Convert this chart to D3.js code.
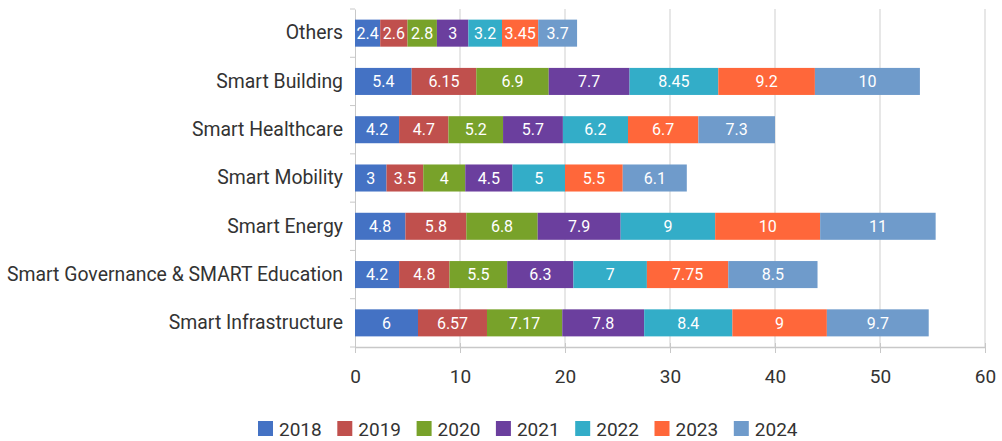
<!DOCTYPE html>
<html>
<head>
<meta charset="utf-8">
<script src="https://cdn.jsdelivr.net/npm/d3@7"></script>
<style>
  body { margin: 0; background: #fff; }
  text { font-family: Roboto, "Noto Sans", sans-serif; }
</style>
</head>
<body>
<div id="chart"></div>
<script>
// categories top to bottom
var categories = ["Others", "Smart Building", "Smart Healthcare", "Smart Mobility",
  "Smart Energy", "Smart Governance & SMART Education", "Smart Infrastructure"];
var years = ["2018", "2019", "2020", "2021", "2022", "2023", "2024"];

// one array per year, same order as categories
var v2018 = [2.4, 5.4, 4.2, 3, 4.8, 4.2, 6];
var v2019 = [2.6, 6.15, 4.7, 3.5, 5.8, 4.8, 6.57];
var v2020 = [2.8, 6.9, 5.2, 4, 6.8, 5.5, 7.17];
var v2021 = [3, 7.7, 5.7, 4.5, 7.9, 6.3, 7.8];
var v2022 = [3.2, 8.45, 6.2, 5, 9, 7, 8.4];
var v2023 = [3.45, 9.2, 6.7, 5.5, 10, 7.75, 9];
var v2024 = [3.7, 10, 7.3, 6.1, 11, 8.5, 9.7];
var xTicks = [0, 10, 20, 30, 40, 50, 60];

var colors = ["#4472c4", "#c0504d", "#78a22a", "#6b3f9e", "#33adc8", "#ff673a", "#6f9bcb"];

var width = 1002, height = 441;
var margin = {top: 9, right: 17, bottom: 94, left: 355};

var series = [v2018, v2019, v2020, v2021, v2022, v2023, v2024];
var rows = categories.map(function(c, i) {
  var row = {cat: c};
  years.forEach(function(y, j) { row[y] = series[j][i]; });
  return row;
});
var stacked = d3.stack().keys(years)(rows);

var svg = d3.select("#chart").append("svg")
    .attr("width", width)
    .attr("height", height);

var x = d3.scaleLinear()
    .domain([0, 60])
    .range([margin.left, width - margin.right]);

var y = d3.scaleBand()
    .domain(categories)
    .range([margin.top, height - margin.bottom])
    .paddingInner(0.44)
    .paddingOuter(0.22);

// grid lines
svg.append("g")
  .selectAll("line")
  .data(xTicks.slice(1))
  .enter().append("line")
    .attr("x1", function(d) { return x(d); })
    .attr("x2", function(d) { return x(d); })
    .attr("y1", margin.top)
    .attr("y2", height - margin.bottom)
    .style("stroke", "#cfcfcf");

// x axis
var xAxis = svg.append("g")
    .attr("transform", "translate(0," + (height - margin.bottom) + ")")
    .call(d3.axisBottom(x).tickValues(xTicks).tickSize(6).tickSizeOuter(0).tickPadding(17));
xAxis.select(".domain").style("stroke", "#c8c8c8").style("stroke-width", 1.5);
xAxis.selectAll(".tick line").style("stroke", "#c8c8c8").attr("y1", -4);
xAxis.selectAll("text").style("font-size", "19px").style("fill", "#333");

// y axis
var yAxis = svg.append("g")
    .attr("transform", "translate(" + margin.left + ",0)")
    .call(d3.axisLeft(y).tickSize(0).tickPadding(12));
yAxis.select(".domain").style("stroke", "#c8c8c8");
yAxis.selectAll("text").style("font-size", "19.4px").style("fill", "#333");

// small ticks between the rows
svg.append("g")
  .selectAll("line")
  .data(d3.range(categories.length + 1))
  .enter().append("line")
    .attr("x1", margin.left - 5)
    .attr("x2", margin.left)
    .attr("y1", function(i) { return margin.top + i * (height - margin.bottom - margin.top) / categories.length; })
    .attr("y2", function(i) { return margin.top + i * (height - margin.bottom - margin.top) / categories.length; })
    .style("stroke", "#c8c8c8");

// bars
var layer = svg.append("g")
  .selectAll("g")
  .data(stacked)
  .enter().append("g")
    .style("fill", function(d, i) { return colors[i]; });

layer.selectAll("rect")
  .data(function(d) { return d; })
  .enter().append("rect")
    .attr("x", function(d) { return x(d[0]); })
    .attr("y", function(d) { return y(d.data.cat); })
    .attr("width", function(d) { return x(d[1]) - x(d[0]); })
    .attr("height", y.bandwidth());

layer.selectAll("text")
  .data(function(d) { return d; })
  .enter().append("text")
    .attr("x", function(d) { return (x(d[0]) + x(d[1])) / 2; })
    .attr("y", function(d) { return y(d.data.cat) + y.bandwidth() / 2; })
    .attr("dy", "0.36em")
    .attr("text-anchor", "middle")
    .style("fill", "#fff")
    .style("font-size", "16px")
    .text(function(d) { return String(+(d[1] - d[0]).toFixed(2)); });

// legend
var legend = svg.append("g")
  .selectAll("g")
  .data(years)
  .enter().append("g")
    .attr("transform", function(d, i) { return "translate(" + (258 + i * 79.3) + ",421)"; });

legend.append("rect")
    .attr("width", 15)
    .attr("height", 15)
    .style("fill", function(d, i) { return colors[i]; });

legend.append("text")
    .attr("x", 21)
    .attr("y", 8)
    .attr("dy", "0.36em")
    .style("font-size", "19px")
    .style("fill", "#333")
    .text(function(d) { return d; });
</script>
</body>
</html>
